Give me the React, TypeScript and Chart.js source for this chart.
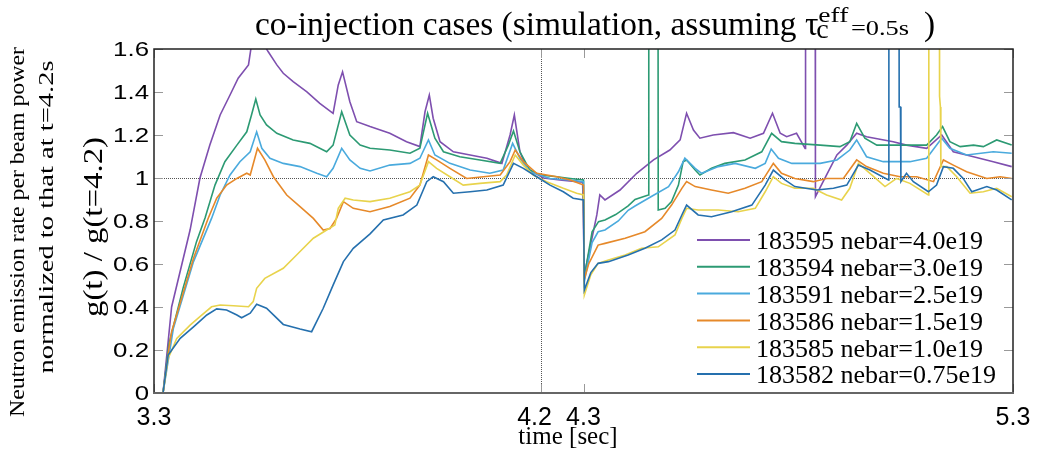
import React, { useEffect, useRef } from "react";
import { Chart, registerables } from "chart.js";

Chart.register(...registerables);

// ---------- data (time [s], g(t)/g(4.2)) ----------
const s183595: [number, number][] = [
  [3.31, 0], [3.321, 0], [3.341, 0.40], [3.384, 0.758], [3.407, 1.0], [3.430, 1.153], [3.454, 1.293],
  [3.477, 1.386], [3.496, 1.464], [3.520, 1.526], [3.527, 1.62], [3.545, 1.75], [3.562, 1.60],
  [3.566, 1.587], [3.586, 1.526], [3.601, 1.487], [3.624, 1.448], [3.656, 1.401], [3.686, 1.347],
  [3.717, 1.301], [3.729, 1.433], [3.739, 1.494], [3.756, 1.355], [3.772, 1.262], [3.803, 1.239],
  [3.849, 1.208], [3.888, 1.169], [3.919, 1.146], [3.931, 1.308], [3.941, 1.386], [3.950, 1.278],
  [3.966, 1.169], [3.997, 1.122], [4.036, 1.107], [4.075, 1.092], [4.110, 1.068], [4.129, 1.2],
  [4.139, 1.293], [4.152, 1.122], [4.168, 1.045], [4.207, 1.0], [4.250, 0.99], [4.298, 0.98],
  [4.302, 0.55], [4.331, 0.828], [4.338, 0.921], [4.350, 0.898], [4.385, 0.944], [4.424, 1.022],
  [4.463, 1.084], [4.501, 1.13], [4.525, 1.177], [4.540, 1.301], [4.556, 1.223], [4.571, 1.185],
  [4.602, 1.2], [4.649, 1.211], [4.688, 1.185], [4.719, 1.208], [4.740, 1.301], [4.758, 1.208],
  [4.773, 1.192], [4.796, 1.208], [4.816, 1.138], [4.817, 3], [4.839, 3], [4.840, 0.913],
  [4.866, 1.014], [4.890, 1.107], [4.913, 1.153], [4.936, 1.208], [4.959, 1.192], [4.990, 1.18],
  [5.021, 1.169], [5.052, 1.153], [5.099, 1.138], [5.134, 1.2], [5.161, 1.122], [5.208, 1.099],
  [5.254, 1.076], [5.297, 1.053],
];

const s183594: [number, number][] = [
  [3.31, 0], [3.321, 0], [3.335, 0.23], [3.368, 0.49], [3.399, 0.704], [3.419, 0.815], [3.442, 0.967],
  [3.465, 1.076], [3.493, 1.153], [3.516, 1.215], [3.527, 1.293], [3.537, 1.367], [3.547, 1.293],
  [3.562, 1.247], [3.586, 1.208], [3.624, 1.177], [3.663, 1.161], [3.702, 1.122], [3.717, 1.153],
  [3.737, 1.308], [3.756, 1.2], [3.780, 1.153], [3.803, 1.138], [3.849, 1.13], [3.896, 1.115],
  [3.919, 1.138], [3.937, 1.301], [3.954, 1.185], [3.974, 1.122], [4.012, 1.099], [4.059, 1.084],
  [4.106, 1.068], [4.125, 1.153], [4.137, 1.219], [4.152, 1.122], [4.175, 1.037], [4.199, 1.014],
  [4.238, 1.006], [4.269, 0.998], [4.300, 0.991], [4.302, 0.54], [4.320, 0.75], [4.335, 0.797],
  [4.350, 0.805], [4.375, 0.83], [4.404, 0.87], [4.420, 0.90], [4.451, 0.921], [4.452, 3],
  [4.473, 3], [4.474, 0.851], [4.490, 0.859], [4.505, 0.89], [4.521, 0.967], [4.532, 1.076],
  [4.540, 1.084], [4.560, 1.037], [4.571, 1.014], [4.598, 1.045], [4.629, 1.068], [4.676, 1.084],
  [4.715, 1.122], [4.738, 1.208], [4.761, 1.169], [4.792, 1.161], [4.851, 1.153], [4.897, 1.146],
  [4.920, 1.169], [4.936, 1.254], [4.955, 1.185], [4.983, 1.153], [5.037, 1.153], [5.099, 1.153],
  [5.122, 1.2], [5.136, 1.239], [5.153, 1.169], [5.177, 1.146], [5.208, 1.153], [5.231, 1.146],
  [5.262, 1.177], [5.297, 1.153],
];

const s183591: [number, number][] = [
  [3.31, 0], [3.321, 0], [3.337, 0.20], [3.345, 0.30], [3.392, 0.611], [3.434, 0.812], [3.454, 0.921],
  [3.477, 1.014], [3.500, 1.076], [3.524, 1.122], [3.539, 1.215], [3.551, 1.138], [3.570, 1.092],
  [3.601, 1.068], [3.640, 1.053], [3.679, 1.022], [3.702, 1.006], [3.717, 1.045], [3.737, 1.138],
  [3.756, 1.084], [3.780, 1.045], [3.803, 1.033], [3.849, 1.06], [3.896, 1.068], [3.919, 1.092],
  [3.939, 1.177], [3.954, 1.107], [3.989, 1.068], [4.036, 1.037], [4.082, 1.022], [4.113, 1.037],
  [4.135, 1.161], [4.152, 1.092], [4.175, 1.029], [4.222, 0.998], [4.269, 0.991], [4.300, 0.983],
  [4.302, 0.52], [4.320, 0.70], [4.334, 0.75], [4.350, 0.758], [4.381, 0.80], [4.404, 0.85],
  [4.420, 0.87], [4.459, 0.915], [4.498, 0.96], [4.521, 1.029], [4.536, 1.092], [4.560, 1.045],
  [4.575, 1.022], [4.614, 1.053], [4.653, 1.068], [4.700, 1.045], [4.723, 1.068], [4.737, 1.135],
  [4.754, 1.092], [4.785, 1.068], [4.851, 1.068], [4.890, 1.084], [4.920, 1.13], [4.936, 1.177],
  [4.959, 1.099], [4.998, 1.076], [5.060, 1.076], [5.099, 1.092], [5.134, 1.185], [5.153, 1.138],
  [5.192, 1.107], [5.254, 1.122], [5.297, 1.115],
];

const s183586: [number, number][] = [
  [3.31, 0], [3.321, 0], [3.335, 0.21], [3.341, 0.285], [3.392, 0.627], [3.426, 0.812], [3.446, 0.906],
  [3.469, 0.967], [3.493, 0.998], [3.516, 1.022], [3.524, 1.014], [3.541, 1.138], [3.558, 1.084],
  [3.578, 1.006], [3.609, 0.921], [3.640, 0.867], [3.671, 0.812], [3.694, 0.758], [3.710, 0.765],
  [3.725, 0.812], [3.741, 0.89], [3.764, 0.859], [3.803, 0.843], [3.849, 0.867], [3.896, 0.906],
  [3.919, 0.967], [3.939, 1.107], [3.958, 1.084], [3.989, 1.045], [4.028, 0.998], [4.067, 1.006],
  [4.106, 1.014], [4.129, 1.076], [4.141, 1.13], [4.160, 1.076], [4.191, 1.022], [4.238, 1.006],
  [4.269, 0.991], [4.300, 0.967], [4.302, 0.53], [4.312, 0.60], [4.334, 0.688], [4.350, 0.696],
  [4.397, 0.72], [4.443, 0.75], [4.482, 0.812], [4.505, 0.874], [4.529, 0.952], [4.540, 0.983],
  [4.560, 0.96], [4.598, 0.944], [4.637, 0.929], [4.676, 0.952], [4.715, 0.983], [4.742, 1.068],
  [4.761, 1.022], [4.792, 0.998], [4.835, 0.983], [4.866, 0.998], [4.905, 0.998], [4.936, 1.084],
  [4.959, 1.053], [4.998, 1.022], [5.037, 1.006], [5.076, 1.006], [5.115, 0.983], [5.138, 1.084],
  [5.161, 1.06], [5.192, 1.029], [5.239, 0.998], [5.270, 1.006], [5.297, 0.998],
];

const s183585: [number, number][] = [
  [3.31, 0], [3.321, 0], [3.333, 0.161], [3.353, 0.254], [3.384, 0.316], [3.407, 0.355], [3.434, 0.401],
  [3.454, 0.409], [3.485, 0.406], [3.520, 0.401], [3.531, 0.425], [3.539, 0.487], [3.558, 0.533],
  [3.601, 0.58], [3.632, 0.642], [3.671, 0.72], [3.702, 0.758], [3.721, 0.781], [3.729, 0.859],
  [3.745, 0.906], [3.764, 0.898], [3.803, 0.89], [3.849, 0.906], [3.896, 0.936], [3.919, 0.967],
  [3.939, 1.076], [3.958, 1.045], [3.989, 1.006], [4.020, 0.967], [4.059, 0.975], [4.106, 0.983],
  [4.121, 1.014], [4.141, 1.107], [4.160, 1.06], [4.183, 1.014], [4.214, 0.983], [4.253, 0.952],
  [4.284, 0.929], [4.300, 0.921], [4.302, 0.456], [4.317, 0.55], [4.334, 0.603], [4.358, 0.619],
  [4.397, 0.642], [4.435, 0.673], [4.474, 0.68], [4.513, 0.735], [4.529, 0.812], [4.540, 0.859],
  [4.567, 0.851], [4.614, 0.851], [4.660, 0.843], [4.700, 0.859], [4.723, 0.936], [4.742, 1.006],
  [4.761, 0.975], [4.792, 0.952], [4.835, 0.952], [4.866, 0.921], [4.901, 0.898], [4.920, 0.952],
  [4.940, 1.068], [4.967, 1.022], [5.002, 0.96], [5.029, 0.998], [5.060, 0.975], [5.103, 0.921],
  [5.104, 3], [5.128, 3], [5.129, 1.38], [5.131, 1.33], [5.132, 1.053], [5.146, 1.053],
  [5.169, 1.006], [5.200, 0.929], [5.231, 0.936], [5.262, 0.952], [5.297, 0.913],
];

const s183582: [number, number][] = [
  [3.31, 0], [3.321, 0], [3.333, 0.177], [3.361, 0.254], [3.392, 0.308], [3.423, 0.363], [3.446, 0.391],
  [3.469, 0.386], [3.493, 0.363], [3.504, 0.35], [3.524, 0.371], [3.539, 0.413], [3.562, 0.394],
  [3.601, 0.319], [3.640, 0.298], [3.667, 0.285], [3.694, 0.394], [3.717, 0.502], [3.741, 0.611],
  [3.764, 0.673], [3.803, 0.74], [3.834, 0.805], [3.880, 0.828], [3.912, 0.874], [3.935, 0.983],
  [3.950, 1.006], [3.974, 0.983], [3.997, 0.929], [4.036, 0.936], [4.075, 0.944], [4.113, 0.967],
  [4.137, 1.068], [4.160, 1.045], [4.191, 1.006], [4.222, 0.967], [4.253, 0.936], [4.276, 0.906],
  [4.300, 0.898], [4.302, 0.479], [4.317, 0.56], [4.334, 0.603], [4.358, 0.611], [4.404, 0.642],
  [4.443, 0.673], [4.482, 0.712], [4.513, 0.758], [4.529, 0.828], [4.540, 0.874], [4.567, 0.828],
  [4.598, 0.82], [4.645, 0.843], [4.692, 0.874], [4.723, 0.967], [4.742, 1.037], [4.769, 0.991],
  [4.792, 0.96], [4.843, 0.944], [4.882, 0.952], [4.913, 0.967], [4.940, 1.06], [4.967, 1.037],
  [5.010, 0.991], [5.011, 3], [5.034, 3], [5.035, 1.33], [5.038, 1.33], [5.039, 0.983],
  [5.052, 1.022], [5.068, 0.983], [5.103, 0.936], [5.122, 0.967], [5.138, 1.053], [5.161, 1.045],
  [5.184, 0.998], [5.204, 0.936], [5.239, 0.96], [5.262, 0.944], [5.297, 0.898],
];

const seriesData = [s183595, s183594, s183591, s183586, s183585, s183582];
const seriesLabels = [
  "183595 nebar=4.0e19",
  "183594 nebar=3.0e19",
  "183591 nebar=2.5e19",
  "183586 nebar=1.5e19",
  "183585 nebar=1.0e19",
  "183582 nebar=0.75e19",
];
const seriesColors = ["#7e4faf", "#2c9a73", "#4aaadd", "#e6892a", "#e8d34c", "#2570ae"];

const xTickValues = [3.3, 4.2, 4.3, 5.3];
const xTickLabels = ["3.3", "4.2", "4.3", "5.3"];
const yTickValues = [0, 0.2, 0.4, 0.6, 0.8, 1.0, 1.2, 1.4, 1.6];
const yTickLabels = ["0", "0.2", "0.4", "0.6", "0.8", "1", "1.2", "1.4", "1.6"];
const refX = 4.2;
const refY = 1.0;

const SERIF = '"Liberation Serif", "Times New Roman", serif';
const SANS = '"Liberation Sans", Arial, sans-serif';

function drawRotated(ctx: CanvasRenderingContext2D, text: string, cx: number, cy: number, size: number, along: number) {
  ctx.save();
  ctx.font = `${size}px ${SERIF}`;
  const w = ctx.measureText(text).width;
  ctx.translate(cx, cy);
  ctx.rotate(-Math.PI / 2);
  ctx.scale(along / w, 1);
  ctx.textAlign = "center";
  ctx.textBaseline = "middle";
  ctx.fillStyle = "#000";
  ctx.fillText(text, 0, 0);
  ctx.restore();
}

function drawStretched(ctx: CanvasRenderingContext2D, text: string, x: number, y: number, size: number, sx: number) {
  ctx.save();
  ctx.font = `${size}px ${SERIF}`;
  ctx.translate(x, y);
  ctx.scale(sx, 1);
  ctx.textAlign = "left";
  ctx.fillText(text, 0, 0);
  ctx.restore();
}

const overlay = {
  id: "overlay",
  beforeDatasetsDraw(chart: any) {
    const { ctx, chartArea: a, scales } = chart;
    ctx.save();
    ctx.strokeStyle = "#555";
    ctx.lineWidth = 1;
    ctx.setLineDash([1, 1]);
    const xr = Math.round(scales.x.getPixelForValue(refX)) + 0.5;
    ctx.beginPath();
    ctx.moveTo(xr, a.top);
    ctx.lineTo(xr, a.bottom);
    ctx.stroke();
    const yr = Math.round(scales.y.getPixelForValue(refY)) + 0.5;
    ctx.beginPath();
    ctx.moveTo(a.left, yr);
    ctx.lineTo(a.right, yr);
    ctx.stroke();
    ctx.restore();
  },
  afterDraw(chart: any) {
    const { ctx, chartArea: a, scales } = chart;
    const xs = scales.x;
    const ys = scales.y;
    ctx.save();

    // inner tick marks
    ctx.strokeStyle = "#999";
    ctx.lineWidth = 1;
    yTickValues.forEach((v) => {
      const y = Math.round(ys.getPixelForValue(v)) + 0.5;
      ctx.beginPath();
      ctx.moveTo(a.left, y);
      ctx.lineTo(a.left + 9, y);
      ctx.moveTo(a.right, y);
      ctx.lineTo(a.right - 9, y);
      ctx.stroke();
    });
    xTickValues.forEach((v) => {
      const x = Math.round(xs.getPixelForValue(v)) + 0.5;
      ctx.beginPath();
      ctx.moveTo(x, a.bottom);
      ctx.lineTo(x, a.bottom - 9);
      ctx.moveTo(x, a.top);
      ctx.lineTo(x, a.top + 9);
      ctx.stroke();
    });

    // axes box
    ctx.strokeStyle = "#222";
    ctx.lineWidth = 1.5;
    ctx.beginPath();
    ctx.moveTo(a.left, a.bottom);
    ctx.lineTo(a.left, a.top);
    ctx.lineTo(a.right, a.top);
    ctx.lineTo(a.right, a.bottom);
    ctx.stroke();
    ctx.strokeStyle = "#666";
    ctx.lineWidth = 2;
    ctx.beginPath();
    ctx.moveTo(a.left - 1, a.bottom);
    ctx.lineTo(a.right + 1, a.bottom);
    ctx.stroke();

    // y tick labels
    ctx.fillStyle = "#000";
    ctx.textAlign = "right";
    ctx.textBaseline = "alphabetic";
    ctx.font = `20.5px ${SANS}`;
    yTickValues.forEach((v, i) => {
      const y = ys.getPixelForValue(v);
      ctx.save();
      ctx.translate(a.left - 5, y + 7.4);
      ctx.scale(1.26, 1);
      ctx.fillText(yTickLabels[i], 0, 0);
      ctx.restore();
    });

    // x tick labels
    ctx.textAlign = "center";
    ctx.font = `25px ${SANS}`;
    xTickValues.forEach((v, i) => {
      const x = xs.getPixelForValue(v) + (xTickLabels[i] === "4.2" ? -6 : 0);
      ctx.fillText(xTickLabels[i], x, a.bottom + 32);
    });

    // x axis title
    ctx.font = `25px ${SERIF}`;
    ctx.fillText("time [sec]", 568, 443.5);

    // y axis titles
    drawRotated(ctx, "g(t) / g(t=4.2)", 95, 227, 27, 180);
    drawRotated(ctx, "Neutron emission rate per beam power", 19, 232, 20, 370);
    drawRotated(ctx, "normalized to that at t=4.2s", 47, 217, 21, 313);

    // title with sub/superscripts
    const main = "co-injection cases (simulation, assuming ";
    const base = 35;
    const x0 = 255;
    ctx.textAlign = "left";
    ctx.font = `33.4px ${SERIF}`;
    const wMain = ctx.measureText(main).width;
    const tauX = x0 + wMain;
    ctx.fillText(main, x0, base);
    ctx.fillText("\u03c4", tauX, base);
    const wTau = ctx.measureText("\u03c4").width;
    ctx.font = `28px ${SERIF}`;
    ctx.fillText("c", tauX + wTau - 2, base + 3);
    drawStretched(ctx, "eff", tauX + wTau, base - 13, 22, 1.25);
    drawStretched(ctx, "=0.5s", tauX + 46, base, 22, 1.2);
    ctx.font = `33.4px ${SERIF}`;
    ctx.fillText(")", tauX + 119, base);

    // legend
    ctx.font = `26px ${SERIF}`;
    ctx.textAlign = "left";
    seriesLabels.forEach((lab, i) => {
      const y = 240 + i * 26.8;
      ctx.strokeStyle = seriesColors[i];
      ctx.lineWidth = 2;
      ctx.beginPath();
      ctx.moveTo(697, y);
      ctx.lineTo(750, y);
      ctx.stroke();
      ctx.fillStyle = "#000";
      ctx.fillText(lab, 756, y + 9.3);
    });

    ctx.restore();
  },
};

export default function App() {
  const ref = useRef<HTMLCanvasElement>(null);
  useEffect(() => {
    document.body.style.margin = "0";
    const canvas = ref.current!;
    const chart = new Chart(canvas, {
      type: "line",
      data: {
        datasets: seriesData.map((s, i) => ({
          label: seriesLabels[i],
          data: s.map(([x, y]) => ({ x, y })),
          borderColor: seriesColors[i],
          backgroundColor: seriesColors[i],
          borderWidth: 1.6,
          pointRadius: 0,
          tension: 0,
          fill: false,
          clip: 0,
          order: 6 - i,
        })),
      },
      options: {
        animation: false,
        responsive: false,
        devicePixelRatio: 1,
        events: [],
        layout: { padding: { top: 49, right: 24, left: 0, bottom: 0 } },
        plugins: { legend: { display: false }, tooltip: { enabled: false }, title: { display: false } },
        scales: {
          x: {
            type: "linear",
            min: 3.3,
            max: 5.3,
            grid: { display: false, drawTicks: false },
            border: { display: false },
            ticks: { display: false },
            afterBuildTicks: (axis: any) => {
              axis.ticks = xTickValues.map((v) => ({ value: v }));
            },
            afterFit: (axis: any) => {
              axis.height = 63;
            },
          },
          y: {
            type: "linear",
            min: 0,
            max: 1.6,
            grid: { display: false, drawTicks: false },
            border: { display: false },
            ticks: { display: false },
            afterBuildTicks: (axis: any) => {
              axis.ticks = yTickValues.map((v) => ({ value: v }));
            },
            afterFit: (axis: any) => {
              axis.width = 154;
            },
          },
        },
      },
      plugins: [overlay],
    } as any);
    return () => chart.destroy();
  }, []);
  return (
    <div style={{ width: 1037, height: 456, background: "#fff" }}>
      <canvas ref={ref} width={1037} height={456} style={{ display: "block" }} />
    </div>
  );
}
